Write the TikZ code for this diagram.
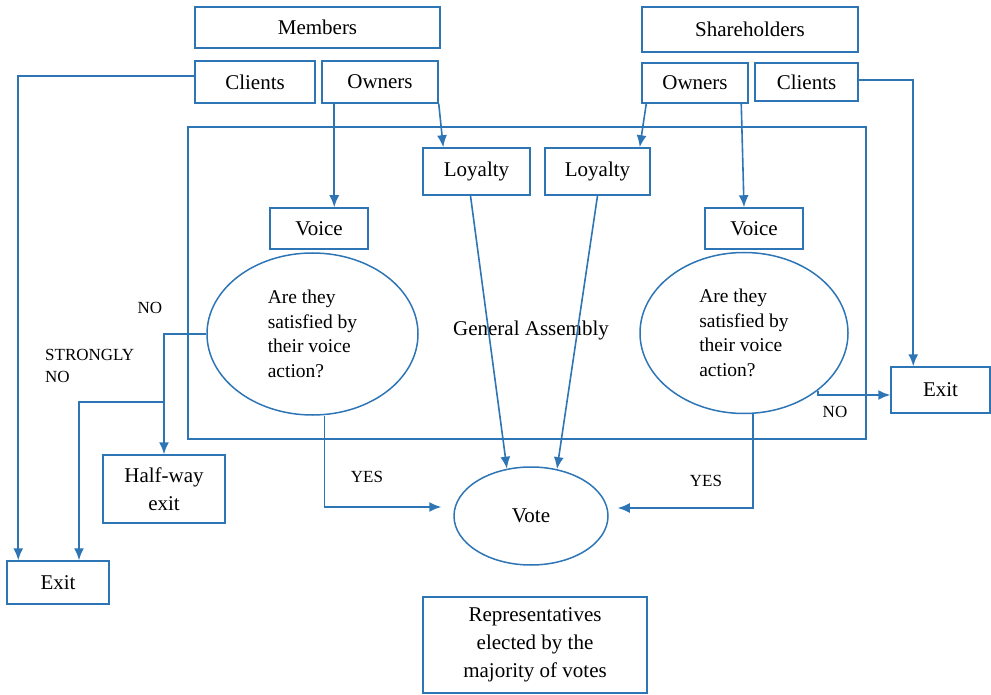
\documentclass[tikz,border=0pt]{standalone}
\usepackage{fontspec}
\setmainfont{Liberation Serif}
\usepackage{xcolor}
\usetikzlibrary{calc,arrows.meta,shapes.geometric}
\definecolor{lineblue}{RGB}{46,117,182}
\tikzset{
  box/.style={draw=lineblue, line width=1.5pt, inner sep=0pt, align=center,
    font=\fontsize{21}{28}\selectfont},
  oval/.style={ellipse, draw=lineblue, line width=1.5pt, inner sep=0pt, align=left,
    font=\fontsize{19.5}{24.5}\selectfont},
  lab/.style={inner sep=0pt, align=left, font=\fontsize{17}{22}\selectfont},
  link/.style={draw=lineblue, line width=1.6pt},
  arr/.style={link, -{Latex[length=12pt,width=10pt]}}
}

\begin{document}
\begin{tikzpicture}[x=1pt,y=-1pt]
\useasboundingbox (0,0) rectangle (991,695);
\node[box, minimum width=678, minimum height=312] (assembly) at (527,283) {};
\node[box, draw=none] (galabel) at (531,330) {General Assembly};
\node[box, minimum width=245, minimum height=41] (members) at (317.5,27.5) {Members};
\node[box, minimum width=120, minimum height=42] (clientsL) at (255,82) {Clients};
\node[box, minimum width=116, minimum height=42] (ownersL) at (380,82) {Owners};
\node[box, minimum width=216, minimum height=45] (share) at (750,29.5) {Shareholders};
\node[box, minimum width=106, minimum height=40] (ownersR) at (695,83) {Owners};
\node[box, minimum width=103, minimum height=38] (clientsR) at (806.5,82) {Clients};
\node[box, minimum width=107, minimum height=47] (loyL) at (476.5,171.5) {Loyalty};
\node[box, minimum width=105, minimum height=47] (loyR) at (597.5,171.5) {Loyalty};
\node[box, minimum width=98, minimum height=41] (voiceL) at (319,228.5) {Voice};
\node[box, minimum width=98, minimum height=41] (voiceR) at (754,228.5) {Voice};
\node[oval, minimum width=211, minimum height=162] (qL) at (312.5,334)
  {Are they\\satisfied by\\their voice\\action?};
\node[oval, minimum width=208, minimum height=161] (qR) at (744,333)
  {Are they\\satisfied by\\their voice\\action?};
\node[oval, align=center, font=\fontsize{21}{28}\selectfont,
  minimum width=154, minimum height=98] (vote) at (531,516) {Vote};
\node[box, minimum width=99, minimum height=46] (exitR) at (940.5,390) {Exit};
\node[box, minimum width=102, minimum height=43] (exitL) at (58,582.5) {Exit};
\node[box, minimum width=122, minimum height=68] (halfway) at (164,489) {Half-way\\exit};
\node[box, minimum width=224, minimum height=96] (reps) at (535,645)
  {Representatives\\elected by the\\majority of votes};

\node[lab] (noL) at (150,308) {NO};
\node[lab, anchor=west] (strong) at (45,366) {STRONGLY\\NO};
\node[lab] (noR) at (835,412) {NO};
\node[lab] (yesL) at (367,477) {YES};
\node[lab] (yesR) at (706,481) {YES};

\draw[arr] ($(ownersL.south west)+(13,0)$) -- ($(voiceL.north west)+(65,0)$);
\draw[arr] (ownersL.south east) -- ($(loyL.north west)+(21,0)$);
\draw[arr] ($(ownersR.south west)+(5,0)$) -- ($(loyR.north east)+(-11,0)$);
\draw[arr] ($(ownersR.south west)+(100,0)$) -- ($(voiceR.north)+(-10,0)$);
\draw[arr] ($(clientsL.west)+(0,-6)$) -| ($(exitL.north west)+(12,0)$);
\draw[arr] ($(clientsR.east)+(0,-2)$) -| ($(exitR.north west)+(23,0)$);
\draw[arr] (qL.west) -| (halfway.north);
\coordinate (split) at (halfway.north |- 0,402);
\draw[arr] (split) -| ($(exitL.north)+(21,0)$);
\draw[arr] (qR.-38) |- ($(exitR.west)+(0,5)$);
\draw[arr] ($(loyL.south)+(-6,0)$) -- (vote.117);
\draw[arr] (loyR.south) -- (vote.61);
\draw[arr] ($(qL.south)+(12,0)$) |- ($(vote.west)+(-12,-9)$);
\draw[arr] ($(qR.south)+(9,0)$) |- ($(vote.east)+(9,-8)$);
\end{tikzpicture}
\end{document}
